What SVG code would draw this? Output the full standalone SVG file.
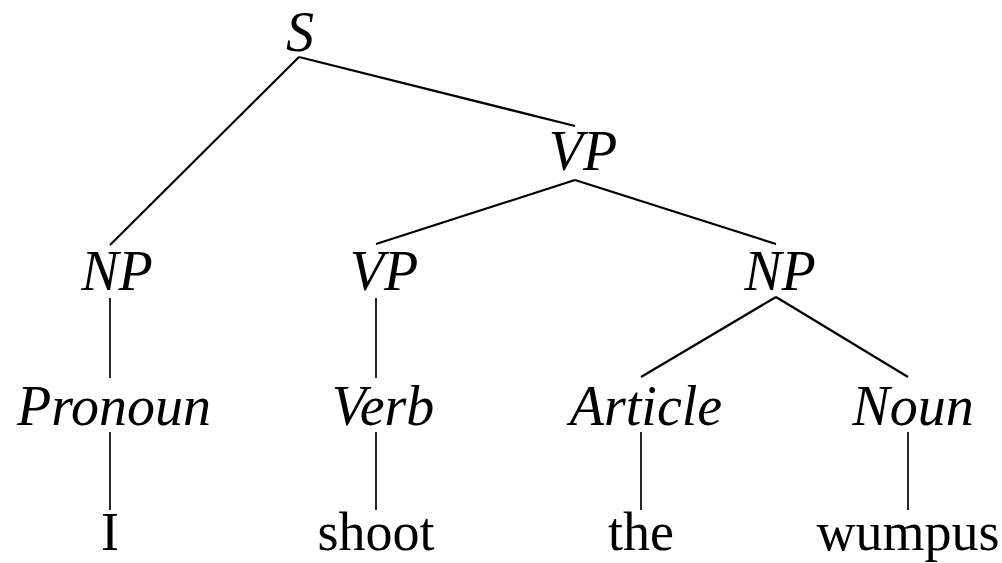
<svg xmlns="http://www.w3.org/2000/svg" width="1002" height="563" viewBox="0 0 1002 563">
<style>
text{font-family:"Liberation Serif","Times New Roman",serif;font-size:56px;fill:#000;text-anchor:middle}
.c{font-style:italic}
.w{font-size:54px}
.e line{stroke:#000;stroke-width:2.2;stroke-linecap:butt}
.e .v{stroke-width:1.7}
</style>
<rect width="1002" height="563" fill="#fff"/>
<g class="e" id="connectors">
<line x1="299" y1="57" x2="110" y2="245"/>
<line x1="299" y1="57" x2="575" y2="126"/>
<line x1="575" y1="180" x2="376" y2="244"/>
<line x1="575" y1="180" x2="776" y2="244"/>
<line class="v" x1="110" y1="298" x2="110" y2="378"/>
<line class="v" x1="376" y1="298" x2="376" y2="378"/>
<line x1="776" y1="297" x2="641" y2="377"/>
<line x1="776" y1="297" x2="908" y2="377"/>
<line class="v" x1="110" y1="432" x2="110" y2="510"/>
<line class="v" x1="376" y1="432" x2="376" y2="510"/>
<line class="v" x1="641" y1="432" x2="641" y2="510"/>
<line class="v" x1="908" y1="432" x2="908" y2="510"/>
</g>
<g id="S"><text class="c" x="300" y="51">S</text></g>
<g id="VP1"><text class="c" x="583" y="170">VP</text></g>
<g id="NP1"><text class="c" x="117" y="290">NP</text></g>
<g id="VP2"><text class="c" x="384" y="290">VP</text></g>
<g id="NP2"><text class="c" x="780" y="290">NP</text></g>
<g id="Pronoun"><text class="c" x="114" y="425">Pronoun</text></g>
<g id="Verb"><text class="c" x="383" y="425">Verb</text></g>
<g id="Article"><text class="c" x="646" y="425">Article</text></g>
<g id="Noun"><text class="c" x="913" y="425">Noun</text></g>
<g id="I"><text class="w" x="110" y="550">I</text></g>
<g id="shoot"><text class="w" x="376" y="550">shoot</text></g>
<g id="the"><text class="w" x="641" y="550">the</text></g>
<g id="wumpus"><text class="w" x="908" y="550">wumpus</text></g>
</svg>
